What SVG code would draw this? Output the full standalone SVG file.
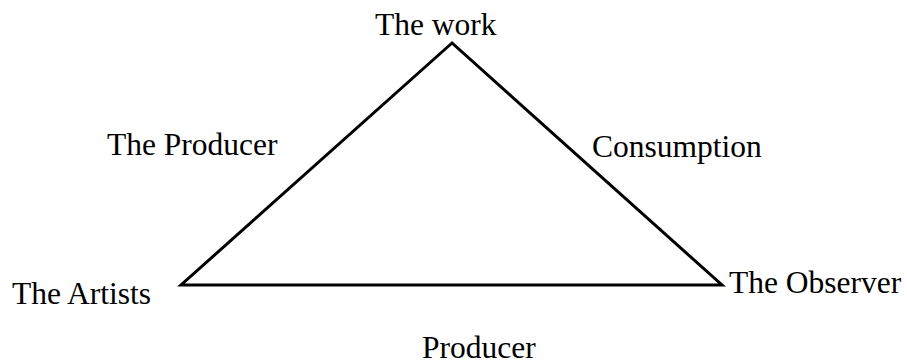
<svg xmlns="http://www.w3.org/2000/svg" width="907" height="364" viewBox="0 0 907 364">
  <style>
    .lbl { font-family: "Liberation Serif", "Times New Roman", serif; font-size: 31.5px; fill: #000; }
    .edge { fill: none; stroke: #000; stroke-width: 3; stroke-linejoin: miter; }
  </style>
  <rect width="907" height="364" fill="#fff"/>
  <g id="connectors">
    <polygon class="edge" points="452,43 181,285 722,285"/>
  </g>
  <g id="the-work"><text class="lbl" x="375" y="35">The work</text></g>
  <g id="the-artists"><text class="lbl" x="12" y="304">The Artists</text></g>
  <g id="the-observer"><text class="lbl" x="729" y="293">The Observer</text></g>
  <g id="label-producer-left"><text class="lbl" x="107" y="155">The Producer</text></g>
  <g id="label-consumption"><text class="lbl" x="592" y="157">Consumption</text></g>
  <g id="label-producer-bottom"><text class="lbl" x="422" y="358">Producer</text></g>
</svg>
